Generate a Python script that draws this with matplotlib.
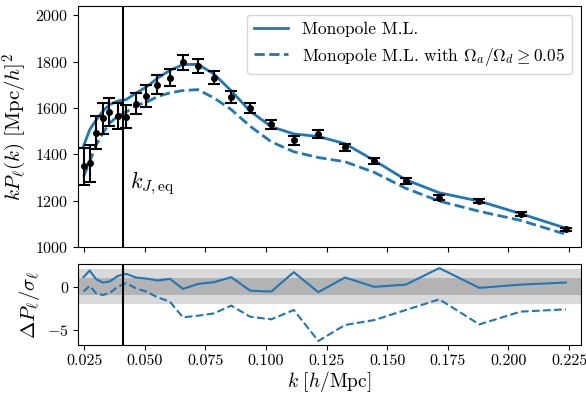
import matplotlib
matplotlib.use("Agg")
import matplotlib.pyplot as plt
import numpy as np

plt.rcParams["font.family"] = "serif"
plt.rcParams["font.serif"] = ["cmr10"]
plt.rcParams["mathtext.fontset"] = "cm"
plt.rcParams["axes.formatter.use_mathtext"] = True
plt.rcParams["axes.unicode_minus"] = False

# measured band powers
k = [0.0248, 0.0273, 0.0300, 0.0327, 0.0355, 0.0390, 0.0424, 0.0464, 0.0507,
     0.0553, 0.0604, 0.0658, 0.0720, 0.0786, 0.0857, 0.0935, 0.1022, 0.1115,
     0.1216, 0.1326, 0.1447, 0.1577, 0.1715, 0.1880, 0.2050, 0.2237]
kP_data = [1349, 1361, 1494, 1555, 1581, 1565, 1562, 1619, 1651, 1701, 1731,
           1796, 1780, 1730, 1648, 1598, 1530, 1460, 1487, 1430, 1372, 1286,
           1213, 1198, 1141, 1076]
kP_err = [80, 80, 70, 67, 61, 56, 50, 46, 46, 42, 38, 34, 30, 28, 25, 22, 20,
          18, 16, 14, 13, 12, 10, 10, 9, 8]

# best fit models
kP_ml = [1435, 1505, 1548, 1585, 1614, 1630, 1636, 1664, 1690, 1728, 1762,
         1787, 1788, 1746, 1674, 1586, 1519, 1488, 1477, 1446, 1373, 1290,
         1234, 1198, 1144, 1081]
kP_ml_cut = [1303, 1367, 1440, 1490, 1534, 1565, 1582, 1610, 1624, 1649, 1665,
             1675, 1679, 1643, 1593, 1521, 1454, 1411, 1386, 1368, 1322, 1253,
             1198, 1154, 1115, 1055]

# residuals (model - data) / sigma
res_ml = [1.09, 1.86, 0.86, 0.47, 0.58, 1.24, 1.47, 1.05, 0.93, 0.70, 0.90,
          -0.27, 0.31, 0.51, 1.09, -0.47, -0.58, 1.67, -0.65, 1.05, -0.03,
          0.23, 2.14, -0.15, 0.23, 0.47]
res_ml_cut = [-0.58, 0.08, -0.77, -0.97, -0.77, 0.0, 0.40, -0.19, -0.58, -1.24,
              -1.74, -3.56, -3.37, -3.10, -2.20, -3.49, -3.79, -2.71, -6.30,
              -4.45, -3.87, -2.71, -1.47, -4.38, -2.90, -2.63]

k_jeq = 0.041

fig = plt.figure(figsize=(5.86, 3.94), dpi=100)
ax1 = fig.add_axes([0.133, 0.373, 0.858, 0.612])
ax2 = fig.add_axes([0.133, 0.124, 0.858, 0.2056], sharex=ax1)

ax1.plot(k, kP_ml, color="C0", lw=2, label="Monopole M.L.")
ax1.plot(k, kP_ml_cut, color="C0", lw=2, ls="--",
         label=r"Monopole M.L. with $\Omega_a/\Omega_d \geq 0.05$")
ax1.errorbar(k, kP_data, yerr=kP_err, fmt="o", color="k", ms=4, capsize=4,
             elinewidth=1.5, capthick=1.5)
ax1.axvline(k_jeq, color="k", lw=1.5)
ax1.text(k_jeq + 0.003, 1276, r"$k_{J,\rm eq}$", fontsize=16, va="center")
ax1.set_ylim(1000, 2040)
ax1.set_xlim(0.0225, 0.2298)
ax1.set_ylabel(r"$kP_\ell(k)\ [{\rm Mpc}/h]^2$", fontsize=15)
ax1.tick_params(labelsize=11.5, labelbottom=False)
ax1.legend(loc="upper right", fontsize=12.5)

ax2.axhspan(-2, 2, color="0.85", lw=0)
ax2.axhspan(-1, 1, color="0.7", lw=0)
ax2.plot(k, res_ml, color="C0", lw=1.5)
ax2.plot(k, res_ml_cut, color="C0", lw=1.5, ls="--")
ax2.axvline(k_jeq, color="k", lw=1.5)
ax2.set_ylim(-6.78, 2.6)
ax2.set_xticks([0.025, 0.05, 0.075, 0.1, 0.125, 0.15, 0.175, 0.2, 0.225])
ax2.set_xticklabels(["0.025", "0.050", "0.075", "0.100", "0.125", "0.150",
                     "0.175", "0.200", "0.225"])
ax2.set_xlabel(r"$k\ [h/{\rm Mpc}]$", fontsize=14, labelpad=1)
ax2.set_ylabel(r"$\Delta P_\ell/\sigma_\ell$", fontsize=15)
ax2.tick_params(labelsize=11.5, pad=3)

fig.savefig("out.png", dpi=100)
